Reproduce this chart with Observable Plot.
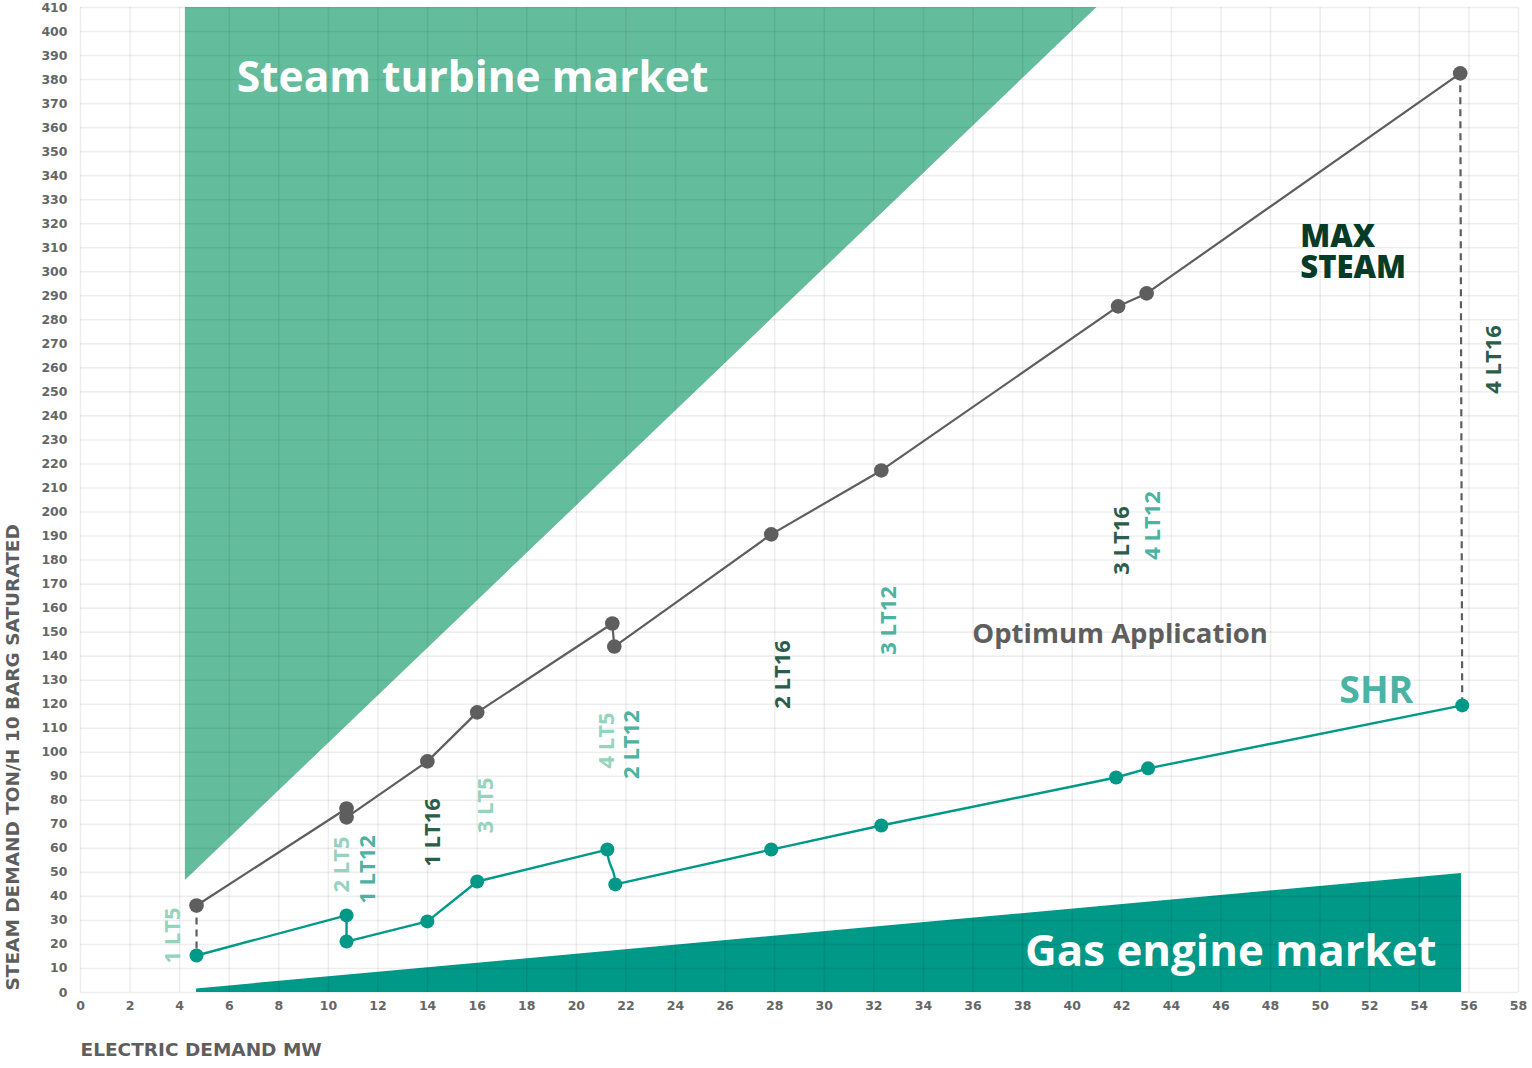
<!DOCTYPE html>
<html><head><meta charset="utf-8">
<script src="https://cdn.jsdelivr.net/npm/d3@7"></script>
<script src="https://cdn.jsdelivr.net/npm/@observablehq/plot@0.6"></script>
<style>body{margin:0;background:#fff} svg{display:block}</style>
</head><body><div id="chart"></div>
<script>
// ---- data ----
const maxSteamX = [4.68, 10.73, 10.73, 13.99, 16.0, 21.45, 21.53, 27.86, 32.3, 41.85, 43.0, 55.65];
const maxSteamY = [36.2, 76.6, 72.9, 96.2, 116.6, 153.6, 144.0, 190.7, 217.3, 285.6, 291.0, 382.6];
const shrX = [4.68, 10.73, 10.73, 13.99, 16.0, 21.25, 21.57, 27.86, 32.3, 41.77, 43.06, 55.73];
const shrY = [15.4, 32.1, 21.2, 29.6, 46.2, 59.5, 45.0, 59.5, 69.5, 89.5, 93.3, 119.5];

const steamMarketX = [4.23, 41.0];
const steamMarketLow = [46.6, 410];
const steamMarketHigh = [410, 410];
const gasMarketX = [4.68, 55.7];
const gasMarketLow = [0, 0];
const gasMarketHigh = [1.5, 49.5];

const xTicks = [0,2,4,6,8,10,12,14,16,18,20,22,24,26,28,30,32,34,36,38,40,42,44,46,48,50,52,54,56,58];
const yTicks = [0,10,20,30,40,50,60,70,80,90,100,110,120,130,140,150,160,170,180,190,200,210,220,230,240,250,260,270,280,290,300,310,320,330,340,350,360,370,380,390,400,410];

const unitText  = ["1 LT5","2 LT5","1 LT12","1 LT16","3 LT5","4 LT5","2 LT12","2 LT16","3 LT12","3 LT16","4 LT12","4 LT16"];
const unitX     = [3.71, 10.56, 11.6, 14.23, 16.37, 21.25, 22.26, 28.35, 32.6, 42.0, 43.27, 57.0];
const unitY     = [23.7, 53.3, 51.2, 66.6, 77.9, 104.9, 103.2, 132.4, 154.9, 188.2, 194.4, 263.5];
const unitKind  = ["LT5","LT5","LT12","LT16","LT5","LT5","LT12","LT16","LT12","LT16","LT12","LT16"];

const FONT = "'Open Sans', 'DejaVu Sans', sans-serif";
const WIDE = "'DejaVu Sans', sans-serif";
const GREY = "#5e5e5e";
const TEAL = "#009887";

const maxSteam = maxSteamX.map((x, i) => ({x, y: maxSteamY[i]}));
const shr = shrX.map((x, i) => ({x, y: shrY[i]}));
const steamMarket = steamMarketX.map((x, i) => ({x, y1: steamMarketLow[i], y2: steamMarketHigh[i]}));
const gasMarket = gasMarketX.map((x, i) => ({x, y1: gasMarketLow[i], y2: gasMarketHigh[i]}));
const units = unitText.map((t, i) => ({t, x: unitX[i], y: unitY[i], k: unitKind[i]}));
const kindColor = {LT5: "#95d4bc", LT12: "#4cb3a2", LT16: "#2c5d4b"};
const connectors = [
  {x1: maxSteamX[0], y1: maxSteamY[0], x2: shrX[0], y2: shrY[0]},
  {x1: maxSteamX[11], y1: maxSteamY[11], x2: shrX[11], y2: shrY[11]}
];

const chart = Plot.plot({
  width: 1532,
  height: 1068,
  marginLeft: 80,
  marginRight: 14,
  marginTop: 7,
  marginBottom: 76,
  style: {fontFamily: FONT, background: "#fff"},
  x: {domain: [0, 58]},
  y: {domain: [0, 410]},
  marks: [
    Plot.area(steamMarket, {x1: "x", y1: "y1", y2: "y2", fill: "#63bd9d"}),
    Plot.area(gasMarket, {x1: "x", y1: "y1", y2: "y2", fill: TEAL}),
    Plot.gridX(xTicks, {stroke: "#000", strokeOpacity: 0.065, strokeWidth: 1.6}),
    Plot.gridY(yTicks, {stroke: "#000", strokeOpacity: 0.065, strokeWidth: 1.6}),
    Plot.axisX(xTicks, {tickSize: 0, tickPadding: 9, label: null, fontSize: 12.5, fontWeight: 700, fontFamily: WIDE, fill: "#666"}),
    Plot.axisY(yTicks, {tickSize: 0, tickPadding: 13, label: null, fontSize: 12.5, fontWeight: 700, fontFamily: WIDE, fill: "#666"}),
    Plot.text(["Steam turbine market"], {x: 6.3, y: 380.5, text: d => d, textAnchor: "start", fontSize: 42.5, fontWeight: 700, fill: "#fff"}),
    Plot.text(["Gas engine market"], {x: 38.1, y: 16.7, text: d => d, textAnchor: "start", fontSize: 43.8, fontWeight: 700, fill: "#fff"}),
    Plot.link(connectors, {x1: "x1", y1: "y1", x2: "x2", y2: "y2", stroke: GREY, strokeWidth: 2.2, strokeDasharray: "7,5"}),
    Plot.line(maxSteam, {x: "x", y: "y", stroke: GREY, strokeWidth: 2.2}),
    Plot.line(shr.slice(0, 6), {x: "x", y: "y", stroke: TEAL, strokeWidth: 2.4}),
    Plot.line(shr.slice(5, 7), {x: "x", y: "y", stroke: TEAL, strokeWidth: 2.4, curve: "bump-y"}),
    Plot.line(shr.slice(6), {x: "x", y: "y", stroke: TEAL, strokeWidth: 2.4}),
    Plot.dot(maxSteam, {x: "x", y: "y", r: 7.3, fill: GREY}),
    Plot.dot(shr, {x: "x", y: "y", r: 7, fill: TEAL}),
    Plot.text(units, {x: "x", y: "y", text: "t", rotate: -90, fontSize: 22, fontWeight: 700, fill: d => kindColor[d.k]}),
    Plot.text(["MAX", "STEAM"], {x: 49.2, y: [314.3, 301.4], text: d => d, textAnchor: "start", fontSize: 31, fontWeight: 800, fill: "#063b28"}),
    Plot.text(["Optimum Application"], {x: 35.97, y: 149, text: d => d, textAnchor: "start", fontSize: 27.5, fontWeight: 700, fill: GREY}),
    Plot.text(["SHR"], {x: 50.77, y: 125.3, text: d => d, textAnchor: "start", fontSize: 37.5, fontWeight: 700, fill: "#4cb3a4"}),
    Plot.text(["STEAM DEMAND TON/H 10 BARG SATURATED"], {frameAnchor: "bottom-left", text: d => d, rotate: -90, textAnchor: "start", dx: -62, dy: -2, fontSize: 18.5, fontWeight: 700, fontFamily: WIDE, fill: GREY}),
    Plot.text(["ELECTRIC DEMAND MW"], {frameAnchor: "bottom-left", text: d => d, textAnchor: "start", dy: 63, fontSize: 18.5, fontWeight: 700, fontFamily: WIDE, fill: GREY})
  ]
});
document.getElementById("chart").appendChild(chart);
</script>
</body></html>
